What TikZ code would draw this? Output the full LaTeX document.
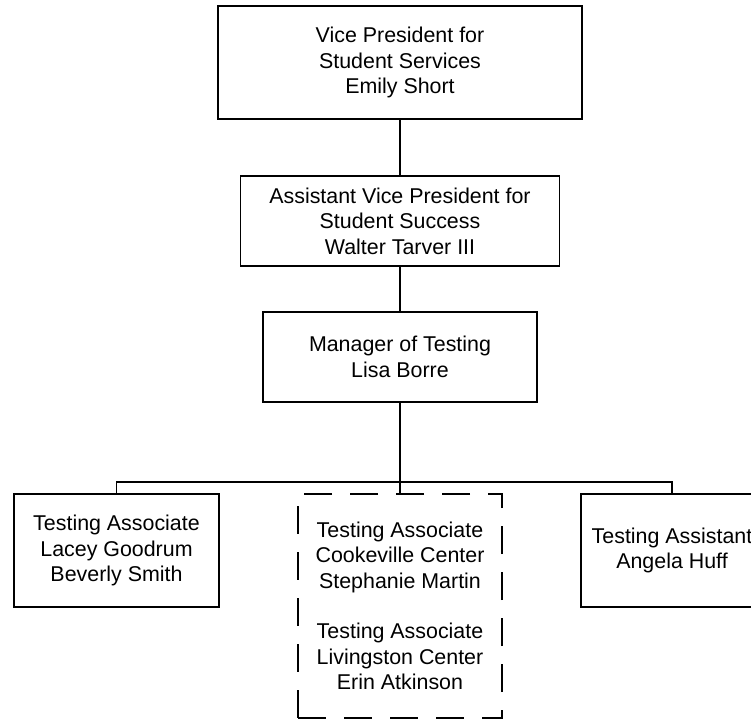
\documentclass[tikz,border=0pt]{standalone}
\usepackage{fontspec}
\setmainfont{Liberation Sans}
\begin{document}
\begin{tikzpicture}[x=1pt,y=-1pt,
  every node/.style={font=\fontsize{21.4}{25.5}\selectfont, align=center, inner sep=0pt},
  orgbox/.style={draw, line width=1.2pt, rectangle},
  dashbox/.style={orgbox, dash pattern=on 28pt off 18pt},
  link/.style={line width=1.2pt}]
\useasboundingbox (0,0) rectangle (751,720);
\node[orgbox, minimum width=364pt, minimum height=113pt] (vp) at (400,62.5)
  {Vice President for\\Student Services\\Emily Short};
\node[orgbox, minimum width=319pt, minimum height=90pt] (avp) at (400,221)
  {Assistant Vice President for\\Student Success\\Walter Tarver III};
\node[orgbox, minimum width=274pt, minimum height=90pt] (mgr) at (400,357)
  {Manager of Testing\\Lisa Borre};
\node[orgbox, minimum width=205pt, minimum height=113pt] (ta1) at (116.5,550.5)
  {Testing Associate\\Lacey Goodrum\\Beverly Smith};
\node[dashbox, minimum width=204pt, minimum height=224pt] (ta2) at (400,606)
  {Testing Associate\\Cookeville Center\\Stephanie Martin\\[25pt]Testing Associate\\Livingston Center\\Erin Atkinson};
\node[orgbox, minimum width=182pt, minimum height=113pt] (ta3) at (672,550.5)
  {Testing Assistant\\Angela Huff};
\coordinate (bar) at (400,482);
\draw[link] (vp.south) -- (avp.north);
\draw[link] (avp.south) -- (mgr.north);
\draw[link] (mgr.south) -- (ta2.north);
\draw[link] (ta1.north) -- (ta1.north |- bar) -- (ta3.north |- bar) -- (ta3.north);
\end{tikzpicture}
\end{document}
